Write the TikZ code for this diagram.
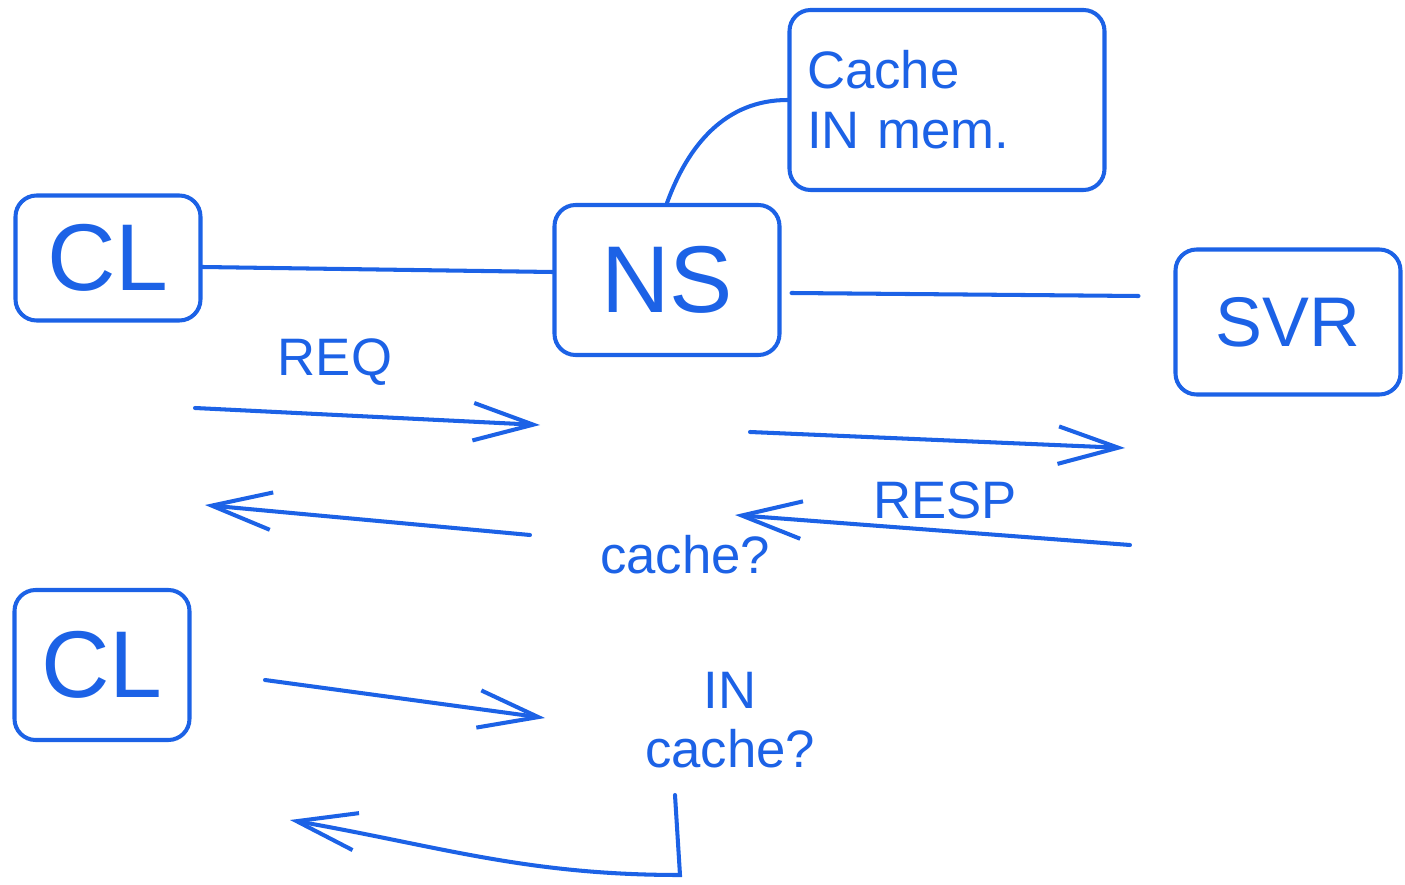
\documentclass[tikz,border=0pt]{standalone}
\usepackage{fontspec}
\setmainfont{Liberation Sans}
\usetikzlibrary{arrows.meta,calc,positioning}
\definecolor{pen}{RGB}{28,98,230}

\begin{document}
\begin{tikzpicture}[
  every node/.style={text=pen},
  box/.style={
    draw=pen,
    line width=2.3pt,
    rounded corners=12pt,
    minimum width=#1,
    align=center
  },
  big/.style={font=\fontsize{54}{58}\selectfont},
  mid/.style={font=\fontsize{40}{44}\selectfont},
  note/.style={font=\fontsize{30}{34}\selectfont, align=center},
  link/.style={draw=pen, line width=2.3pt, line cap=round},
  arrow/.style={link, -{Straight Barb[length=1.2cm, width=0.75cm, line width=2.3pt]}}
]
\useasboundingbox (0,0) rectangle (28.1,-17.7);

\node[box=3.7cm, minimum height=2.5cm, big] (client) at (2.16,-5.16) {CL};
\node[box=4.5cm, minimum height=3.0cm, big] (ns) at (13.34,-5.6) {NS};
\node[box=4.5cm, minimum height=2.9cm, mid] (svr) at (25.76,-6.44) {SVR};
\node[box=6.3cm, minimum height=3.6cm, note, align=left, text width=5.6cm] (mem) at (18.94,-2.0) {Cache\\IN mem.};
\node[box=3.5cm, minimum height=3.0cm, big] (client2) at (2.04,-13.3) {CL};

\node[note] (req) at (6.7,-7.25) {REQ};
\node[note] (resp) at (18.9,-10.0) {RESP};
\node[note] (ask) at (13.7,-11.1) {cache?};
\node[note] (incache) at (14.6,-14.4) {IN\\cache?};

\draw[link] (client.east |- 0,-5.34) -- (ns.west |- 0,-5.44);
\draw[link] ([xshift=0.2cm]ns.east |- 0,-5.86) -- ([xshift=-0.7cm]svr.west |- 0,-5.92);
\draw[link] (ns.north) to[out=70, in=180] (mem.west);

\coordinate (reqa) at (3.9,-8.16);
\coordinate (reqb) at (10.8,-8.5);
\coordinate (fwda) at (15.0,-8.64);
\coordinate (fwdb) at (22.5,-8.96);
\coordinate (respa) at (22.6,-10.9);
\coordinate (respb) at (14.7,-10.3);
\coordinate (backa) at (10.6,-10.7);
\coordinate (backb) at (4.1,-10.1);
\coordinate (aska) at (5.3,-13.6);
\coordinate (askb) at (10.9,-14.36);
\coordinate (loopa) at (13.5,-15.9);
\coordinate (loopb) at (13.6,-17.5);
\coordinate (loopc) at (5.8,-16.4);

\draw[arrow] (reqa) -- (reqb);
\draw[arrow] (fwda) -- (fwdb);
\draw[arrow] (respa) -- (respb);
\draw[arrow] (backa) -- (backb);
\draw[arrow] (aska) -- (askb);
\draw[arrow] (loopa) -- (loopb) to[out=180, in=-10] (loopc);
\end{tikzpicture}
\end{document}
